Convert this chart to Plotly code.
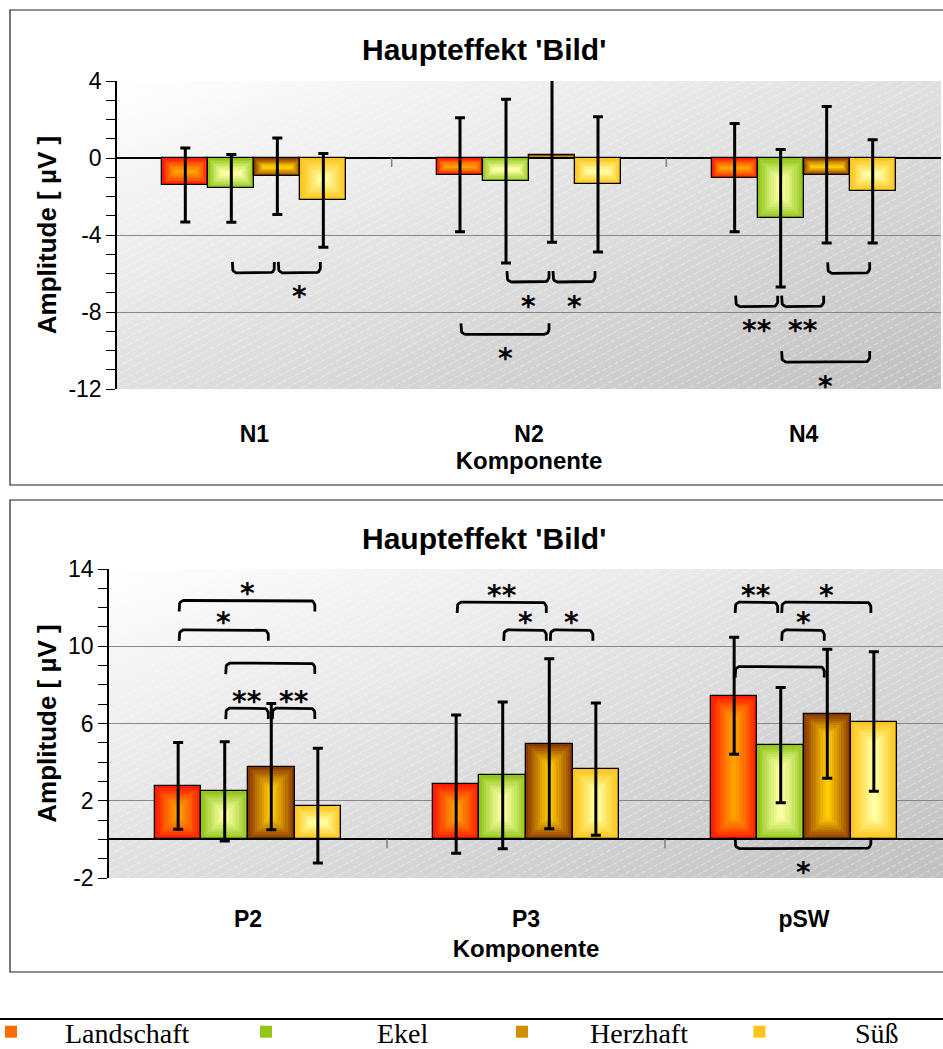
import base64
import numpy as np
import plotly.graph_objects as go

# ---------------- data ----------------
series = ["Landschaft", "Ekel", "Herzhaft", "Süß"]

top_components = ["N1", "N2", "N4"]
top_landschaft = [-1.40, -0.87, -1.02]
top_ekel = [-1.58, -1.20, -3.13]
top_herzhaft = [-0.95, 0.14, -0.87]
top_suess = [-2.20, -1.37, -1.73]
top_landschaft_err = [1.92, 2.96, 2.81]
top_ekel_err = [1.76, 4.25, 3.57]
top_herzhaft_err = [1.99, 4.52, 3.54]
top_suess_err = [2.43, 3.51, 2.68]
top_yticks = [-12, -8, -4, 0, 4]

bottom_components = ["P2", "P3", "pSW"]
bottom_landschaft = [2.77, 2.86, 7.44]
bottom_ekel = [2.48, 3.31, 4.88]
bottom_herzhaft = [3.77, 4.95, 6.50]
bottom_suess = [1.75, 3.64, 6.10]
bottom_landschaft_err = [2.25, 3.58, 3.03]
bottom_ekel_err = [2.57, 3.80, 2.98]
bottom_herzhaft_err = [3.27, 4.40, 3.34]
bottom_suess_err = [2.97, 3.42, 3.61]
bottom_yticks = [-2, 2, 6, 10, 14]

# significance brackets: (component index, series a, series b, tip level, label, side)
top_brackets = [
    (0, 1, 2, -5.40, "", "below"),
    (0, 2, 3, -5.40, "*", "below"),
    (1, 1, 2, -5.87, "*", "below"),
    (1, 2, 3, -5.87, "*", "below"),
    (1, 0, 2, -8.59, "*", "below"),
    (2, 2, 3, -5.42, "", "below"),
    (2, 0, 1, -7.15, "**", "below"),
    (2, 1, 2, -7.15, "**", "below"),
    (2, 1, 3, -10.03, "*", "below"),
]
bottom_brackets = [
    (0, 0, 3, 11.80, "*", "above"),
    (0, 0, 2, 10.28, "*", "above"),
    (0, 1, 3, 8.56, "", "above"),
    (0, 1, 2, 6.23, "**", "above"),
    (0, 2, 3, 6.23, "**", "above"),
    (1, 0, 2, 11.72, "**", "above"),
    (1, 1, 2, 10.28, "*", "above"),
    (1, 2, 3, 10.28, "*", "above"),
    (2, 0, 1, 11.72, "**", "above"),
    (2, 1, 3, 11.72, "*", "above"),
    (2, 1, 2, 10.28, "*", "above"),
    (2, 0, 2, 8.38, "", "above"),
    (2, 0, 3, 0.09, "*", "below"),
]

chart_title = "Haupteffekt 'Bild'"
x_title = "Komponente"
y_title = "Amplitude [ µV ]"

top_means = [top_landschaft, top_ekel, top_herzhaft, top_suess]
top_errs = [top_landschaft_err, top_ekel_err, top_herzhaft_err, top_suess_err]
bottom_means = [bottom_landschaft, bottom_ekel, bottom_herzhaft, bottom_suess]
bottom_errs = [bottom_landschaft_err, bottom_ekel_err, bottom_herzhaft_err, bottom_suess_err]

# ---------------- style ----------------
W, H = 943, 1049
SANS = "Liberation Sans, Arial, sans-serif"
SERIF = "Liberation Serif, Times New Roman, serif"
STAR = "DejaVu Sans, sans-serif"

grad = [
    ["#FF1800", "#FF6600", "#FFA200"],
    ["#92C61A", "#CDE86A", "#FFFFA6"],
    ["#8A3A00", "#CC8800", "#FFCC00"],
    ["#FFC41C", "#FFE25E", "#FFFFA6"],
]
legend_colors = ["#FF6600", "#99CC00", "#CC8800", "#FFCC00"]
# legend placement: symbol centre x (px) and gap symbol-centre -> text start (px)
legend_sym_x = [11, 266, 522, 759.5]
legend_text_gap = [54, 111, 68, 95.5]
LEGEND_Y = 1032
NLAYERS = 10
BAR_W = 0.1675

geom = [
    dict(left=117, right=941, top=81, bottom=389, xa="x", ya="y", xid="xaxis", yid="yaxis",
         ticks=top_yticks, comps=top_components, means=top_means, errs=top_errs,
         brackets=top_brackets, title_y=50, box=(10, 485), lab_off=29, xt_off=6),
    dict(left=109, right=943, top=569, bottom=878, xa="x2", ya="y2", xid="xaxis2", yid="yaxis2",
         ticks=bottom_yticks, comps=bottom_components, means=bottom_means, errs=bottom_errs,
         brackets=bottom_brackets, title_y=538, box=(500, 972), lab_off=25, xt_off=9),
]


def hex2rgb(h):
    h = h.lstrip("#")
    return np.array([int(h[i:i + 2], 16) for i in (0, 2, 4)], dtype=float)


def mix_rgb(stops, t):
    if t <= 0.5:
        a, b, u = stops[0], stops[1], t / 0.5
    else:
        a, b, u = stops[1], stops[2], (t - 0.5) / 0.5
    return hex2rgb(a) * (1 - u) + hex2rgb(b) * u


def rgbstr(c):
    return "rgb(%d,%d,%d)" % tuple(np.round(c))


def bg_uri(wpx, hpx):
    svg = (
        f'<svg xmlns="http://www.w3.org/2000/svg" width="{wpx}" height="{hpx}" '
        f'viewBox="0 0 {wpx} {hpx}" preserveAspectRatio="none">'
        '<defs><linearGradient id="g" x1="0" y1="0" x2="1" y2="1">'
        '<stop offset="0" stop-color="#FFFFFF"/><stop offset="1" stop-color="#C0C0C0"/>'
        '</linearGradient>'
        '<pattern id="p" width="7" height="7" patternUnits="userSpaceOnUse" patternTransform="rotate(-28)">'
        '<line x1="0" y1="0.5" x2="7" y2="0.5" stroke="#FFFFFF" stroke-width="0.8" '
        'stroke-opacity="0.5" stroke-dasharray="3 2"/></pattern></defs>'
        '<rect width="100%" height="100%" fill="url(#g)"/>'
        '<rect width="100%" height="100%" fill="url(#p)"/></svg>'
    )
    return "data:image/svg+xml;base64," + base64.b64encode(svg.encode()).decode()


legend_ids = ["legend", "legend2", "legend3", "legend4"]

fig = go.Figure()
annotations = []
shapes = []
images = []
layout_axes = {}

for gi, g in enumerate(geom):
    ymin, ymax = min(g["ticks"]), max(g["ticks"])
    xs = (g["right"] - g["left"]) / 3.0          # px per x unit (range -0.5..2.5)
    ys = (g["bottom"] - g["top"]) / (ymax - ymin)  # px per y unit
    ncomp = len(g["comps"])
    comp_idx = np.arange(ncomp)

    # category divider ticks hanging below the zero line
    dividers = comp_idx[:-1] + 0.5
    fig.add_trace(go.Scatter(
        x=dividers, y=np.zeros(len(dividers)), mode="markers",
        marker=dict(size=1, opacity=0),
        error_y=dict(type="data", symmetric=False, array=np.zeros(len(dividers)),
                     arrayminus=np.full(len(dividers), 9.0 / ys), visible=True,
                     color="#7F7F7F", thickness=1.5, width=0),
        showlegend=False, xaxis=g["xa"], yaxis=g["ya"], hoverinfo="skip",
    ))

    centers = []
    for j, name in enumerate(series):
        vals = np.array(g["means"][j], dtype=float)
        xc = comp_idx + (j - 1.5) * BAR_W
        centers.append(xc)
        wpx = BAR_W * xs
        hpx = np.abs(vals) * ys
        maxin = np.minimum(wpx, hpx) / 2.0
        lo = np.minimum(0, vals)
        dists = [np.sum((hex2rgb(legend_colors[j]) - mix_rgb(grad[j], k / (NLAYERS - 1))) ** 2)
                 for k in range(NLAYERS)]
        leg_k = int(np.argmin(dists))
        for k in range(NLAYERS):
            inset = maxin * k / NLAYERS
            fig.add_trace(go.Bar(
                x=xc, y=np.abs(vals) - 2 * inset / ys, base=lo + inset / ys,
                width=BAR_W - 2 * inset / xs,
                marker=dict(color=rgbstr(mix_rgb(grad[j], k / (NLAYERS - 1))), line=dict(width=0)),
                name=name, legendgroup=name, legend=legend_ids[j],
                showlegend=(gi == 0 and k == leg_k),
                xaxis=g["xa"], yaxis=g["ya"], hoverinfo="skip",
            ))
        fig.add_trace(go.Bar(
            x=xc, y=np.abs(vals), base=lo, width=BAR_W,
            marker=dict(color="rgba(0,0,0,0)", line=dict(color="black", width=1.3)),
            name=name, legendgroup=name, showlegend=False,
            xaxis=g["xa"], yaxis=g["ya"], hoverinfo="skip",
        ))
    for j, name in enumerate(series):
        fig.add_trace(go.Scatter(
            x=centers[j], y=g["means"][j], mode="markers",
            marker=dict(size=1, opacity=0),
            error_y=dict(type="data", array=g["errs"][j], visible=True,
                         color="black", thickness=3, width=5),
            showlegend=False, xaxis=g["xa"], yaxis=g["ya"], hoverinfo="skip",
        ))
    for (ci, a, b, ytip, lab, side) in g["brackets"]:
        xa_ = centers[a][ci] + 1.0 / xs
        xb_ = centers[b][ci] - 3.0 / xs
        sgn = -1 if side == "below" else 1
        yh = ytip + sgn * 11.0 / ys
        rx, ry = 5.0 / xs, 5.0 / ys
        px, py = [xa_], [ytip]
        for ang in np.linspace(0, np.pi / 2, 8):
            px.append(xa_ + rx * (1 - np.cos(ang)))
            py.append(yh - sgn * ry * (1 - np.sin(ang)))
        for ang in np.linspace(np.pi / 2, 0, 8):
            px.append(xb_ - rx * (1 - np.cos(ang)))
            py.append(yh - sgn * ry * (1 - np.sin(ang)))
        px.append(xb_)
        py.append(ytip)
        fig.add_trace(go.Scatter(
            x=px, y=py, mode="lines", line=dict(color="black", width=2.8),
            showlegend=False, xaxis=g["xa"], yaxis=g["ya"], hoverinfo="skip",
        ))
        if lab:
            annotations.append(dict(
                x=(xa_ + xb_) / 2, y=yh, xref=g["xa"], yref=g["ya"], text=lab,
                showarrow=False, yshift=(-24 if side == "below" else 7),
                font=dict(family=STAR, size=28, color="black", weight="bold"),
            ))

    ydom = [1 - g["bottom"] / H, 1 - g["top"] / H]
    xdom = [g["left"] / W, g["right"] / W]
    layout_axes[g["xid"]] = dict(
        domain=xdom, range=[-0.5, 2.5], anchor=g["ya"],
        tickmode="array", tickvals=list(comp_idx), ticktext=g["comps"],
        ticks="", showline=False, showgrid=False, zeroline=False,
        tickfont=dict(family=SANS, size=23, color="black", weight="bold"),
        ticklabelstandoff=g["lab_off"],
        title=dict(text=x_title, standoff=g["xt_off"],
                   font=dict(family=SANS, size=24, color="black", weight="bold")),
    )
    layout_axes[g["yid"]] = dict(
        domain=ydom, range=[ymin, ymax], anchor=g["xa"],
        tickmode="array", tickvals=g["ticks"], ticktext=[str(t) for t in g["ticks"]],
        ticks="outside", ticklen=9, tickwidth=1.3, tickcolor="black",
        showline=True, linecolor="black", linewidth=1.5,
        showgrid=True, gridcolor="#878787", gridwidth=1,
        zeroline=True, zerolinecolor="black", zerolinewidth=1.5,
        minor=dict(tickmode="linear", tick0=0, dtick=1, ticks="outside", ticklen=9,
                   tickwidth=1.3, tickcolor="black", showgrid=False),
        tickfont=dict(family=SANS, size=23, color="black"),
        ticklabelstandoff=0,
        title=dict(text=y_title, standoff=4,
                   font=dict(family=SANS, size=26, color="black", weight="bold")),
    )
    images.append(dict(
        source=bg_uri(g["right"] - g["left"], g["bottom"] - g["top"]),
        xref=g["xa"] + " domain", yref=g["ya"] + " domain", x=0, y=1, sizex=1, sizey=1,
        xanchor="left", yanchor="top", sizing="stretch", layer="below",
    ))
    annotations.append(dict(
        x=484 / W, y=1 - g["title_y"] / H, xref="paper", yref="paper", text=chart_title,
        showarrow=False, xanchor="center", yanchor="middle",
        font=dict(family=SANS, size=30, color="black", weight="bold"),
    ))
    shapes.append(dict(
        type="rect", xref="paper", yref="paper", x0=10 / W, x1=1.05,
        y0=1 - g["box"][1] / H, y1=1 - g["box"][0] / H,
        line=dict(color="#202020", width=1.2), fillcolor="rgba(0,0,0,0)", layer="below",
    ))

shapes.append(dict(type="line", xref="paper", yref="paper", x0=0, x1=1,
                   y0=1 - 1019 / H, y1=1 - 1019 / H, line=dict(color="black", width=2.2)))

legends = {}
for j, lid in enumerate(legend_ids):
    iw = 2 * (legend_text_gap[j] - 5)
    x_left = legend_sym_x[j] - 5 - iw / 2
    legends[lid] = dict(
        orientation="h", x=x_left / W, y=1 - LEGEND_Y / H, xanchor="left", yanchor="middle",
        font=dict(family=SERIF, size=28, color="black"), itemwidth=iw,
        bgcolor="rgba(0,0,0,0)", borderwidth=0,
        itemclick=False, itemdoubleclick=False,
    )

fig.update_layout(
    width=W, height=H,
    margin=dict(l=0, r=0, t=0, b=0, autoexpand=False),
    paper_bgcolor="white", plot_bgcolor="white",
    barmode="overlay", bargap=0,
    showlegend=True,
    annotations=annotations, shapes=shapes, images=images,
    **legends,
    **layout_axes,
)

fig.write_html("out.html", config={"displayModeBar": False},
               post_script="document.body.style.margin='0';")
